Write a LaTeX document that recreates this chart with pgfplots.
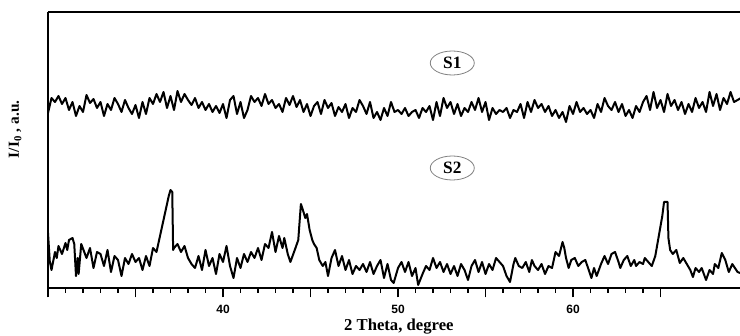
\documentclass[border=0pt]{standalone}
\usepackage{pgfplots}
\pgfplotsset{compat=1.18}
\usepackage{fontspec}
\setmainfont{Liberation Serif}
\newfontfamily\tickfont{Liberation Sans}
\usetikzlibrary{shapes.geometric}

\pgfplotstableread{
x h
30.0 175
30.2 190
30.4 186
30.6 192
30.8 184
31.0 190
31.2 178
31.4 186
31.6 172
31.8 182
32.0 176
32.2 193
32.4 185
32.6 189
32.8 180
33.0 186
33.2 172
33.4 184
33.6 178
33.8 190
34.0 184
34.2 176
34.4 188
34.6 180
34.8 174
35.0 183
35.2 170
35.4 186
35.6 174
35.8 190
36.0 184
36.2 194
36.4 186
36.6 196
36.8 180
37.0 192
37.2 178
37.4 197
37.6 186
37.8 194
38.0 188
38.2 183
38.4 190
38.6 180
38.8 186
39.0 178
39.2 184
39.4 176
39.6 182
39.8 175
40.0 184
40.2 170
40.4 188
40.6 192
40.8 174
41.0 186
41.2 170
41.4 178
41.6 192
41.8 186
42.0 190
42.2 182
42.4 194
42.6 184
42.8 188
43.0 180
43.2 184
43.4 176
43.6 190
43.8 183
44.0 192
44.2 181
44.4 188
44.6 176
44.8 184
45.0 172
45.2 182
45.4 186
45.6 174
45.8 188
46.0 180
46.2 185
46.4 172
46.6 181
46.8 176
47.0 184
47.2 170
47.4 180
47.6 176
47.8 188
48.0 182
48.2 174
48.4 186
48.6 170
48.8 176
49.0 168
49.2 180
49.4 172
49.6 186
49.8 176
50.0 178
50.2 174
50.4 180
50.6 172
50.8 176
51.0 178
51.2 170
51.4 180
51.6 176
51.8 182
52.0 168
52.2 186
52.4 172
52.6 190
52.8 180
53.0 186
53.2 174
53.4 184
53.6 172
53.8 180
54.0 176
54.2 186
54.4 178
54.6 190
54.8 176
55.0 186
55.2 168
55.4 180
55.6 174
55.8 178
56.0 176
56.2 180
56.4 170
56.6 178
56.8 176
57.0 184
57.2 170
57.4 186
57.6 176
57.8 188
58.0 180
58.2 184
58.4 176
58.6 182
58.8 172
59.0 178
59.2 170
59.4 176
59.6 166
59.8 182
60.0 174
60.2 186
60.4 176
60.6 180
60.8 174
61.0 178
61.2 170
61.4 184
61.6 176
61.8 190
62.0 182
62.2 178
62.4 186
62.6 176
62.8 184
63.0 172
63.2 178
63.4 170
63.6 182
63.8 176
64.0 186
64.2 192
64.4 178
64.6 196
64.8 180
65.0 188
65.2 176
65.4 194
65.6 182
65.8 188
66.0 178
66.2 186
66.4 174
66.6 184
66.8 176
67.0 190
67.2 180
67.4 186
67.6 176
67.8 196
68.0 182
68.2 194
68.4 178
68.6 190
68.8 184
69.0 196
69.2 186
69.4 188
69.6 190
}\sone

\pgfplotstableread{
x h
30.0 55
30.1 27
30.2 18
30.4 36
30.5 30
30.6 42
30.8 34
31.0 45
31.1 38
31.2 48
31.4 50
31.5 44
31.6 12
31.7 30
31.75 14
31.9 44
32.2 30
32.4 40
32.6 20
32.8 36
33.0 34
33.2 22
33.4 38
33.6 16
33.8 32
34.0 28
34.2 12
34.4 30
34.6 24
34.8 34
35.0 26
35.2 30
35.4 18
35.6 32
35.8 22
36.0 40
36.2 36
36.4 52
36.6 68
36.8 84
36.9 92
37.0 98
37.1 96
37.15 38
37.2 40
37.4 44
37.6 36
37.8 42
38.0 30
38.2 24
38.4 20
38.6 32
38.8 18
39.0 38
39.2 22
39.4 30
39.6 14
39.8 34
40.0 26
40.2 42
40.4 22
40.6 10
40.8 30
41.0 20
41.2 34
41.4 26
41.6 36
41.8 30
42.0 40
42.2 28
42.4 44
42.6 40
42.8 56
43.0 36
43.2 52
43.4 40
43.5 50
43.7 34
43.85 26
44.1 38
44.3 48
44.45 84
44.6 76
44.7 70
44.8 74
44.95 58
45.1 48
45.2 44
45.35 40
45.5 28
45.7 22
45.85 26
46.0 12
46.2 30
46.4 38
46.6 22
46.8 32
47.0 18
47.2 28
47.4 14
47.6 22
47.8 18
48.0 24
48.2 16
48.4 26
48.6 14
48.8 22
49.0 28
49.2 10
49.4 24
49.6 8
49.75 5
50.0 20
50.2 26
50.4 16
50.6 26
50.8 12
51.0 20
51.15 3
51.4 14
51.6 22
51.8 18
52.0 30
52.2 20
52.4 26
52.6 16
52.8 24
53.0 14
53.2 22
53.4 12
53.6 24
53.8 18
54.0 8
54.2 22
54.4 28
54.6 16
54.8 26
55.0 14
55.2 24
55.4 18
55.6 30
55.8 26
56.0 22
56.2 12
56.4 6
56.6 24
56.7 30
56.9 22
57.1 20
57.3 26
57.5 16
57.65 28
57.8 22
58.0 18
58.2 24
58.4 14
58.6 22
58.8 20
59.0 36
59.2 32
59.4 46
59.5 40
59.6 30
59.75 20
59.9 28
60.1 30
60.3 22
60.5 26
60.7 28
60.9 18
61.05 10
61.2 20
61.35 12
61.6 24
61.8 32
62.0 24
62.2 34
62.4 36
62.6 26
62.7 20
62.9 28
63.1 32
63.3 22
63.5 28
63.6 22
63.8 26
64.0 24
64.1 30
64.3 26
64.5 22
64.7 32
64.8 42
65.0 62
65.1 72
65.2 86
65.4 86
65.45 50
65.55 38
65.7 34
65.9 38
66.1 25
66.3 30
66.5 24
66.7 18
66.85 11
67.0 20
67.2 16
67.35 20
67.6 8
67.8 18
68.0 14
68.1 24
68.3 20
68.5 35
68.7 28
68.9 16
69.1 24
69.25 20
69.4 16
69.55 15
}\stwo

\begin{document}
\begin{tikzpicture}
\useasboundingbox (0,0) rectangle (555pt,252pt);
\begin{axis}[
  at={(36pt,36pt)}, anchor=south west,
  scale only axis, width=519pt, height=207pt,
  xmin=30, xmax=69.54, ymin=0, ymax=276,
  axis x line=box, axis y line=left,
  axis line style={-, line width=1.7pt},
  ytick=\empty,
  xtick={30,35,40,45,50,55,60,65},
  xticklabels={,,40,,50,,60,},
  minor x tick num=4,
  xtick pos=bottom,
  tick align=outside,
  major tick length=7pt,
  minor tick length=3.5pt,
  every tick/.style={black, line width=1.1pt},
  xticklabel style={font=\tickfont\bfseries\fontsize{9}{10}\selectfont, yshift=-2.5pt},
  xlabel={2 Theta, degree},
  xlabel style={font=\bfseries\fontsize{12.5}{14}\selectfont, at={(axis description cs:0.507,0)}, anchor=center, yshift=-29pt},
  ylabel={I/I$_{\mathbf{0}}$ , a.u.},
  ylabel style={font=\bfseries\fontsize{11.5}{13}\selectfont, at={(axis description cs:-0.0475,0.575)}, anchor=center},
]
\addplot[black, line width=1.5pt, line join=round] table[x=x, y=h] {\sone};
\addplot[black, line width=1.5pt, line join=round] table[x=x, y=h] {\stwo};
\node[ellipse, draw=gray, line width=0.6pt, minimum width=33pt, minimum height=18pt, inner sep=0pt, font=\bfseries\fontsize{13}{14}\selectfont] at (axis cs:53.1,225) {S1};
\node[ellipse, draw=gray, line width=0.6pt, minimum width=33pt, minimum height=18pt, inner sep=0pt, font=\bfseries\fontsize{13}{14}\selectfont] at (axis cs:53.1,120) {S2};
\end{axis}
\end{tikzpicture}
\end{document}
